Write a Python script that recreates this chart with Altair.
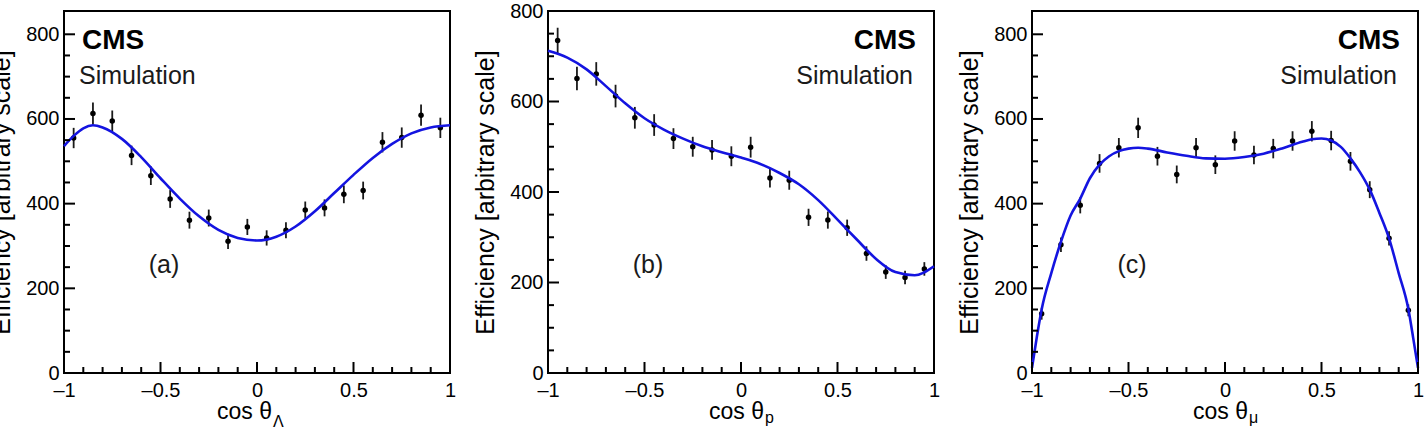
import altair as alt
import pandas as pd

FONT = "Liberation Sans"
BLUE = "#1414e0"
W, H = 386, 362

# bin centres shared by all three efficiency histograms
bin_centres = [-0.95, -0.85, -0.75, -0.65, -0.55, -0.45, -0.35, -0.25, -0.15, -0.05,
               0.05, 0.15, 0.25, 0.35, 0.45, 0.55, 0.65, 0.75, 0.85, 0.95]

# (a) cos theta_Lambda
eff_lambda = [555, 613, 595, 514, 466, 411, 361, 366, 311, 345,
              319, 337, 385, 390, 422, 431, 545, 556, 609, 579]
err_lambda = [24, 26, 25, 23, 22, 21, 20, 20, 18, 19,
              18, 19, 20, 20, 21, 21, 24, 24, 25, 24]
fit_lambda_x = [-1.0, -0.95, -0.9, -0.85, -0.8, -0.7, -0.6, -0.5, -0.4, -0.3, -0.2, -0.1,
                0.0, 0.1, 0.2, 0.3, 0.4, 0.5, 0.6, 0.7, 0.8, 0.9, 1.0]
fit_lambda_y = [536, 560, 578, 585, 580, 553, 510, 460, 412, 370, 338, 319,
                313, 322, 346, 382, 425, 468, 508, 541, 566, 580, 585]

# (b) cos theta_p
eff_p = [735, 651, 661, 612, 564, 548, 518, 500, 493, 479,
         499, 431, 426, 344, 338, 321, 264, 223, 211, 230]
err_p = [28, 26, 26, 25, 24, 24, 23, 22, 22, 22,
         23, 21, 21, 19, 19, 18, 16, 15, 15, 15]
fit_p_x = [-1.0, -0.9, -0.8, -0.7, -0.6, -0.5, -0.4, -0.3, -0.2, -0.1, 0.0,
           0.1, 0.2, 0.3, 0.4, 0.5, 0.6, 0.7, 0.8, 0.9, 1.0]
fit_p_y = [712, 697, 671, 634, 596, 563, 538, 518, 501, 488, 476,
           462, 442, 417, 382, 339, 295, 252, 223, 216, 236]

# (c) cos theta_mu
eff_mu = [140, 303, 396, 495, 532, 579, 512, 469, 532, 492,
          548, 515, 530, 548, 571, 549, 500, 433, 318, 148]
err_mu = [14, 17, 19, 22, 23, 24, 22, 21, 23, 22,
          23, 22, 23, 23, 24, 23, 22, 20, 17, 14]
fit_mu_x = [-1.0, -0.975, -0.95, -0.9, -0.85, -0.8, -0.75, -0.7, -0.65, -0.6, -0.55, -0.5,
            -0.45, -0.4, -0.3, -0.2, -0.1, 0.0, 0.1, 0.2, 0.3, 0.4, 0.45, 0.5, 0.55, 0.6,
            0.65, 0.7, 0.75, 0.8, 0.85, 0.9, 0.95, 0.975, 1.0]
fit_mu_y = [12, 85, 150, 236, 310, 372, 412, 460, 492, 512, 524, 530,
            532, 530, 521, 513, 507, 506, 510, 518, 531, 546, 552, 554, 549, 534,
            507, 474, 433, 378, 318, 236, 151, 83, 12]

# axis tick positions (drawn inward, ROOT style)
x_major = [-1.0, -0.5, 0.0, 0.5, 1.0]
x_minor = [-0.9, -0.8, -0.7, -0.6, -0.4, -0.3, -0.2, -0.1,
           0.1, 0.2, 0.3, 0.4, 0.6, 0.7, 0.8, 0.9]
y_major = [0, 200, 400, 600, 800]
y_minor = [50, 100, 150, 250, 300, 350, 450, 500, 550, 650, 700, 750]

X_LABELS = ("datum.value == 0 ? '0' : (datum.value < 0 ? '\u2013' + format(-datum.value, '~g')"
            " : format(datum.value, '~g'))")


def one_row():
    return alt.Data(values=[{}])


def panel(eff, err, fit_x, fit_y, ymax, tag, title_main, title_sub, title_right, sub_base,
          cms_left):
    xs = alt.Scale(domain=[-1, 1], nice=False, zero=False)
    ys = alt.Scale(domain=[0, ymax], nice=False, zero=True)
    xaxis = alt.Axis(values=x_major, labelExpr=X_LABELS, ticks=False, tickSize=0,
                     domain=False, grid=False, labelFontSize=20, labelFont=FONT,
                     labelColor="black", labelPadding=7, labelFlush=False,
                     labelOverlap=False, title=None)
    yaxis = alt.Axis(values=y_major, format="d", ticks=False, tickSize=0, domain=False,
                     grid=False, labelFontSize=20, labelFont=FONT, labelColor="black",
                     labelPadding=5, labelOverlap=False,
                     title="Efficiency [arbitrary scale]", titleFont=FONT,
                     titleFontSize=25, titleFontWeight="normal", titleColor="black",
                     titlePadding=11)

    def X(f):
        return alt.X(f, type="quantitative", scale=xs, axis=xaxis)

    def Y(f):
        return alt.Y(f, type="quantitative", scale=ys, axis=yaxis)

    pts = pd.DataFrame({
        "c": bin_centres,
        "eff": eff,
        "lo": [v - e for v, e in zip(eff, err)],
        "hi": [v + e for v, e in zip(eff, err)],
    })
    fit = pd.DataFrame({"x": fit_x, "y": fit_y})

    bars = alt.Chart(pts).mark_rule(color="#1a1a1a", strokeWidth=1.8).encode(
        x=X("c"), y=Y("lo"), y2="hi")
    dots = alt.Chart(pts).mark_circle(color="black", size=30, opacity=1).encode(
        x=X("c"), y=Y("eff"))
    curve = alt.Chart(fit).mark_line(color=BLUE, strokeWidth=2.6,
                                     interpolate="monotone").encode(x=X("x"), y=Y("y"))

    xt_major = alt.Chart(pd.DataFrame({"t": x_major})).mark_rule(
        color="black", strokeWidth=2).encode(x=X("t"), y=alt.value(H), y2=alt.value(H - 11))
    xt_minor = alt.Chart(pd.DataFrame({"t": x_minor})).mark_rule(
        color="black", strokeWidth=2).encode(x=X("t"), y=alt.value(H), y2=alt.value(H - 6))
    yt_major = alt.Chart(pd.DataFrame({"t": y_major})).mark_rule(
        color="black", strokeWidth=2).encode(y=Y("t"), x=alt.value(0), x2=alt.value(11))
    yt_minor = alt.Chart(pd.DataFrame({"t": y_minor})).mark_rule(
        color="black", strokeWidth=2).encode(y=Y("t"), x=alt.value(0), x2=alt.value(6))

    if cms_left:
        cms = alt.Chart(one_row()).mark_text(
            text="CMS", font=FONT, fontSize=28, fontWeight="bold", align="left",
            baseline="alphabetic", color="black").encode(x=alt.value(18), y=alt.value(38))
        sim = alt.Chart(one_row()).mark_text(
            text="Simulation", font=FONT, fontSize=25, align="left",
            baseline="alphabetic", color="#1a1a1a").encode(x=alt.value(15), y=alt.value(73))
    else:
        cms = alt.Chart(one_row()).mark_text(
            text="CMS", font=FONT, fontSize=28, fontWeight="bold", align="right",
            baseline="alphabetic", color="black").encode(x=alt.value(W - 18), y=alt.value(38))
        sim = alt.Chart(one_row()).mark_text(
            text="Simulation", font=FONT, fontSize=25, align="right",
            baseline="alphabetic", color="#1a1a1a").encode(x=alt.value(W - 21),
                                                           y=alt.value(73))

    label = alt.Chart(one_row()).mark_text(
        text=tag, font=FONT, fontSize=25, align="center", baseline="alphabetic",
        color="#1a1a1a").encode(x=alt.value(100), y=alt.value(262))

    xtitle = alt.Chart(one_row()).mark_text(
        text=title_main, font=FONT, fontSize=23, align="right", baseline="alphabetic",
        color="black").encode(x=alt.value(title_right), y=alt.value(H + 46))
    xsub = alt.Chart(one_row()).mark_text(
        text=title_sub, font=FONT, fontSize=16, align="left", baseline="alphabetic",
        color="black").encode(x=alt.value(title_right + 1), y=alt.value(H + sub_base))

    return alt.layer(bars, dots, curve, xt_major, xt_minor, yt_major, yt_minor,
                     cms, sim, label, xtitle, xsub).properties(width=W, height=H)


pa = panel(eff_lambda, err_lambda, fit_lambda_x, fit_lambda_y, 855, "(a)",
           "cos \u03b8", "\u039b", 208, 54, True)
pb = panel(eff_p, err_p, fit_p_x, fit_p_y, 800, "(b)",
           "cos \u03b8", "p", 216, 50, False)
pc = panel(eff_mu, err_mu, fit_mu_x, fit_mu_y, 855, "(c)",
           "cos  \u03b8", "\u03bc", 216, 50, False)

chart = alt.hconcat(pa, pb, pc, spacing=98, bounds="flush").properties(
    padding={"left": -12, "top": 0, "right": 0, "bottom": 0},
    background="white",
).configure(font=FONT).configure_view(stroke="black", strokeWidth=2)

chart.save("out.html", embed_options={"renderer": "svg", "actions": False})
